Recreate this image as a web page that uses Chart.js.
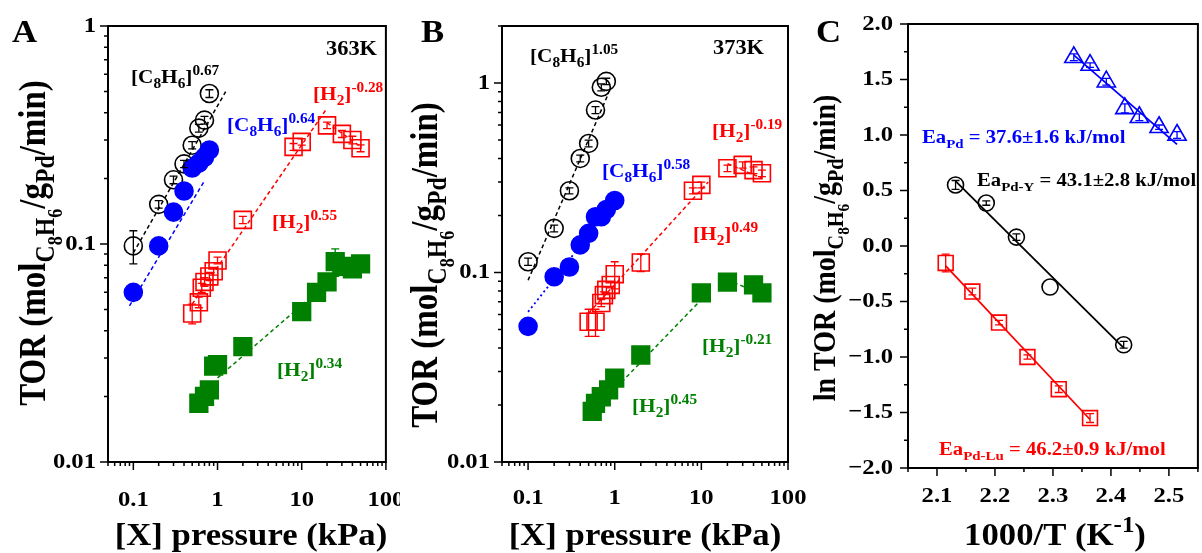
<!DOCTYPE html>
<html>
<head>
<meta charset="utf-8">
<script src="https://cdn.jsdelivr.net/npm/chart.js@4.4.1/dist/chart.umd.min.js"></script>
<style>
  html, body { margin: 0; padding: 0; background: #fff; overflow: hidden; }
  body { width: 1202px; height: 553px; position: relative; }
  canvas { position: absolute; top: 0; }
</style>
</head>
<body>
<canvas id="chartA" width="400" height="553" style="left:0px"></canvas>
<canvas id="chartB" width="410" height="553" style="left:400px"></canvas>
<canvas id="chartC" width="400" height="553" style="left:810px"></canvas>
<script>
// ---- Panel A : 363 K, TOR vs pressure ----
const aBlackX = [0.1, 0.2, 0.3, 0.4, 0.5, 0.6, 0.7, 0.8];
const aBlackY = [0.098, 0.152, 0.197, 0.233, 0.284, 0.34, 0.37, 0.49];
const aBlackErr = [0.017, 0.006, 0.008, 0.009, 0.011, 0.014, 0.015, 0.02];
const aBlueX = [0.1, 0.2, 0.3, 0.4, 0.5, 0.6, 0.7, 0.8];
const aBlueY = [0.060, 0.098, 0.140, 0.175, 0.223, 0.235, 0.25, 0.27];
const aRedX = [0.5, 0.6, 0.65, 0.7, 0.8, 0.9, 1, 2, 8, 10, 20, 30, 40, 50];
const aRedY = [0.048, 0.054, 0.063, 0.067, 0.071, 0.075, 0.084, 0.129, 0.279, 0.294, 0.35, 0.32, 0.30, 0.275];
const aRedErr = [0.005, 0.003, 0.003, 0.003, 0.003, 0.003, 0.003, 0.005, 0.01, 0.01, 0.012, 0.012, 0.012, 0.01];
const aGreenX = [0.6, 0.7, 0.8, 0.9, 1, 2, 10, 15, 20, 25, 30, 40, 50];
const aGreenY = [0.0186, 0.020, 0.0214, 0.0275, 0.028, 0.0338, 0.049, 0.060, 0.067, 0.083, 0.079, 0.077, 0.081];
const aGreenErr = [0, 0, 0, 0, 0, 0, 0, 0, 0, 0.012, 0, 0, 0];
// fitted power-law lines (end points)
const aBlackFitX = [0.1, 1.25], aBlackFitY = [0.091, 0.50];
const aBlueFitX = [0.09, 0.7], aBlueFitY = [0.052, 0.195];
const aRedFitX = [0.5, 20], aRedFitY = [0.053, 0.42];
const aRedFit2X = [20, 50], aRedFit2Y = [0.36, 0.28];
const aGreenFitX = [1, 15], aGreenFitY = [0.0243, 0.06];

// ---- Panel B : 373 K ----
const bBlackX = [0.1, 0.2, 0.3, 0.4, 0.5, 0.6, 0.7, 0.8];
const bBlackY = [0.114, 0.171, 0.27, 0.40, 0.48, 0.72, 0.95, 1.02];
const bBlackErr = [0.005, 0.007, 0.01, 0.016, 0.02, 0.03, 0.04, 0.04];
const bBlueX = [0.1, 0.2, 0.3, 0.4, 0.5, 0.6, 0.7, 0.8, 1];
const bBlueY = [0.052, 0.095, 0.107, 0.14, 0.161, 0.197, 0.197, 0.215, 0.24];
const bRedX = [0.5, 0.6, 0.7, 0.75, 0.8, 0.9, 1, 2, 8, 10, 20, 30, 40, 50];
const bRedY = [0.055, 0.055, 0.069, 0.076, 0.081, 0.086, 0.098, 0.113, 0.27, 0.29, 0.355, 0.37, 0.347, 0.334];
const bRedErr = [0.009, 0.009, 0.003, 0.003, 0.003, 0.003, 0.016, 0.012, 0.01, 0.01, 0.014, 0.014, 0.014, 0.013];
const bGreenX = [0.55, 0.6, 0.7, 0.85, 1, 2, 10, 20, 40, 50];
const bGreenY = [0.0185, 0.0204, 0.0221, 0.024, 0.0277, 0.0367, 0.078, 0.089, 0.086, 0.078];
const bBlackFitX = [0.1, 0.85], bBlackFitY = [0.091, 0.885];
const bBlueFitX = [0.1, 1], bBlueFitY = [0.062, 0.235];
const bRedFitX = [0.5, 12], bRedFitY = [0.061, 0.30];
const bRedFit2X = [20, 50], bRedFit2Y = [0.375, 0.315];
const bGreenFitX = [1.2, 10], bGreenFitY = [0.0264, 0.072];
const bGreenFit2X = [20, 45], bGreenFit2Y = [0.092, 0.078];

// ---- Panel C : Arrhenius plot ----
const cBlueX = [2.336, 2.364, 2.392, 2.424, 2.449, 2.483, 2.514];
const cBlueY = [1.70, 1.63, 1.48, 1.24, 1.16, 1.07, 1.00];
const cBlueErr = [0.03, 0.02, 0.03, 0.04, 0.03, 0.02, 0.03];
const cBlackX = [2.132, 2.185, 2.237, 2.295, 2.422];
const cBlackY = [0.55, 0.387, 0.08, -0.37, -0.89];
const cBlackErr = [0.04, 0.02, 0.03, 0, 0.03];
const cRedX = [2.115, 2.161, 2.207, 2.256, 2.31, 2.364];
const cRedY = [-0.153, -0.41, -0.69, -1.0, -1.29, -1.55];
const cRedErr = [0.08, 0.03, 0.02, 0.02, 0.03, 0.04];
const cBlueFitX = [2.336, 2.514], cBlueFitY = [1.719, 0.915];
const cBlackFitX = [2.132, 2.422], cBlackFitY = [0.584, -0.918];
const cRedFitX = [2.115, 2.364], cRedFitY = [-0.179, -1.563];

const FONT = "'Liberation Serif', 'Times New Roman', serif";
const STRETCH = 1.12;
const BLUE = '#0000ff', RED = '#ff0000', GREEN = '#008000', BLACK = '#000000';

function pts(xs, ys) { return xs.map((x, i) => ({ x: x, y: ys[i] })); }

function marks(xs, ys, color, style, radius, filled, err, order) {
  return {
    data: pts(xs, ys), pointStyle: style, pointRadius: radius,
    borderColor: color, pointBorderColor: color,
    pointBackgroundColor: filled ? color : 'rgba(0,0,0,0)',
    pointBorderWidth: 1.6, showLine: false, err: err, order: order
  };
}
function fit(xs, ys, color, dash, width, order) {
  return {
    data: pts(xs, ys), showLine: true, borderColor: color, borderWidth: width || 1.5,
    borderDash: dash, pointRadius: 0, order: order || 0
  };
}

// tick values
function logTicks(lo, hi, min, max) {
  const out = [];
  for (let p = lo; p <= hi; p++) {
    for (let k = 1; k < 10; k++) {
      const v = parseFloat((k * Math.pow(10, p)).toPrecision(2));
      if (v >= min - 1e-9 && v <= max + 1e-9) out.push(v);
    }
  }
  return out;
}
function linTicks(min, max, step) {
  const out = [];
  const n = Math.round((max - min) / step);
  for (let i = 0; i <= n; i++) out.push(parseFloat((min + i * step).toFixed(3)));
  return out;
}
const isDecade = v => Math.abs(Math.log10(v) - Math.round(Math.log10(v))) < 1e-6;
const multipleOf = s => v => Math.abs(v / s - Math.round(v / s)) < 1e-6;

// rich text: parts = [[text, kind]], kind '' | sub | sup | ss
const KINDS = { '': [1, 0], sub: [0.72, 0.25], sup: [0.72, -0.42], ss: [0.55, 0.45] };
function drawRich(ctx, item) {
  const size = item.size;
  ctx.save();
  ctx.translate(item.x, item.y);
  if (item.rotate) { ctx.rotate(-Math.PI / 2); ctx.scale(1, STRETCH); }
  else ctx.scale(STRETCH, 1);
  ctx.fillStyle = item.color || BLACK;
  ctx.textBaseline = item.baseline || 'alphabetic';
  ctx.textAlign = 'left';
  const widths = item.parts.map(p => {
    ctx.font = 'bold ' + (size * KINDS[p[1]][0]) + 'px ' + FONT;
    return ctx.measureText(p[0]).width;
  });
  const total = widths.reduce((a, b) => a + b, 0);
  let cx = item.align === 'center' ? -total / 2 : item.align === 'right' ? -total : 0;
  item.parts.forEach((p, i) => {
    const k = KINDS[p[1]];
    ctx.font = 'bold ' + (size * k[0]) + 'px ' + FONT;
    ctx.fillText(p[0], cx, k[1] * size);
    cx += widths[i];
  });
  ctx.restore();
}

const C8H6 = [['[C', ''], ['8', 'sub'], ['H', ''], ['6', 'sub'], [']', '']];
const H2 = [['[H', ''], ['2', 'sub'], [']', '']];
const TOR = [['TOR (mol', ''], ['C', 'sub'], ['8', 'ss'], ['H', 'sub'], ['6', 'ss'], ['/g', ''], ['Pd', 'sub'], ['/min)', '']];
const XTITLE = [['[X] pressure (kPa)', '']];

// texts in page coordinates (left x, baseline y)
const textsA = [
  { x: 12, y: 42, size: 31, parts: [['A', '']] },
  { x: 326, y: 55, size: 20, parts: [['363K', '']] },
  { x: 131, y: 83, size: 19, parts: C8H6.concat([['0.67', 'sup']]) },
  { x: 227, y: 131, size: 19, color: BLUE, parts: C8H6.concat([['0.64', 'sup']]) },
  { x: 313, y: 100, size: 19, color: RED, parts: H2.concat([['-0.28', 'sup']]) },
  { x: 272, y: 228, size: 19, color: RED, parts: H2.concat([['0.55', 'sup']]) },
  { x: 277, y: 376, size: 19, color: GREEN, parts: H2.concat([['0.34', 'sup']]) },
  { x: 45, y: 243, size: 33, rotate: true, align: 'center', parts: TOR },
  { x: 251, y: 545, size: 31, align: 'center', parts: XTITLE }
];
const textsB = [
  { x: 421, y: 42, size: 31, parts: [['B', '']] },
  { x: 713, y: 54, size: 20, parts: [['373K', '']] },
  { x: 530, y: 62, size: 19, parts: C8H6.concat([['1.05', 'sup']]) },
  { x: 602, y: 177, size: 19, color: BLUE, parts: C8H6.concat([['0.58', 'sup']]) },
  { x: 712, y: 137, size: 19, color: RED, parts: H2.concat([['-0.19', 'sup']]) },
  { x: 693, y: 240, size: 19, color: RED, parts: H2.concat([['0.49', 'sup']]) },
  { x: 702, y: 352, size: 19, color: GREEN, parts: H2.concat([['-0.21', 'sup']]) },
  { x: 632, y: 412, size: 19, color: GREEN, parts: H2.concat([['0.45', 'sup']]) },
  { x: 437, y: 265, size: 33, rotate: true, align: 'center', parts: TOR },
  { x: 645, y: 545, size: 31, align: 'center', parts: XTITLE }
];
const textsC = [
  { x: 816, y: 42, size: 31, parts: [['C', '']] },
  { x: 922, y: 143, size: 18.5, color: BLUE, parts: [['Ea', ''], ['Pd', 'sub'], [' = 37.6\u00b11.6 kJ/mol', '']] },
  { x: 977, y: 186, size: 18.5, parts: [['Ea', ''], ['Pd-Y', 'sub'], [' = 43.1\u00b12.8 kJ/mol', '']] },
  { x: 939, y: 455, size: 18.5, color: RED, parts: [['Ea', ''], ['Pd-Lu', 'sub'], [' = 46.2\u00b10.9 kJ/mol', '']] },
  { x: 835, y: 248, size: 28, rotate: true, align: 'center', parts: [['ln ', '']].concat(TOR) },
  { x: 1055, y: 545, size: 31, align: 'center', parts: [['1000/T (K', ''], ['-1', 'sup'], [')', '']] }
];

const panelCfg = {
  chartA: { offX: 0, xMajor: isDecade, yMajor: isDecade, fmtX: v => String(v), fmtY: v => String(v),
            xLabelY: 506, yLabelPad: 12, texts: textsA },
  chartB: { offX: 400, xMajor: isDecade, yMajor: isDecade, fmtX: v => String(v), fmtY: v => String(v),
            xLabelY: 504, yLabelPad: 12, texts: textsB },
  chartC: { offX: 810, xMajor: multipleOf(0.1), yMajor: multipleOf(0.5), fmtX: v => v.toFixed(1),
            fmtY: v => (v < 0 ? '\u2212' : '') + Math.abs(v).toFixed(1), xLabelY: 502, yLabelPad: 15, texts: textsC }
};

const framePlugin = {
  id: 'frame',
  afterDatasetsDraw(chart) {
    const ctx = chart.ctx, ys = chart.scales.y;
    chart.data.datasets.forEach((ds, i) => {
      if (!ds.err) return;
      const meta = chart.getDatasetMeta(i);
      ctx.save();
      ctx.strokeStyle = ds.borderColor; ctx.lineWidth = 1.3;
      meta.data.forEach((el, j) => {
        const e = ds.err[j];
        if (!e) return;
        const y1 = ys.getPixelForValue(ds.data[j].y - e), y2 = ys.getPixelForValue(ds.data[j].y + e);
        ctx.beginPath();
        ctx.moveTo(el.x, y1); ctx.lineTo(el.x, y2);
        ctx.moveTo(el.x - 4, y1); ctx.lineTo(el.x + 4, y1);
        ctx.moveTo(el.x - 4, y2); ctx.lineTo(el.x + 4, y2);
        ctx.stroke();
      });
      ctx.restore();
    });
  },
  afterDraw(chart) {
    const cfg = panelCfg[chart.canvas.id];
    const ctx = chart.ctx, a = chart.chartArea;
    const xs = chart.scales.x, ys = chart.scales.y;
    ctx.save();
    ctx.strokeStyle = BLACK;
    ctx.lineWidth = 2;
    ctx.strokeRect(a.left, a.top, a.right - a.left, a.bottom - a.top);
    ctx.lineWidth = 1.5;
    ctx.beginPath();
    xs.ticks.forEach(t => {
      const px = xs.getPixelForValue(t.value);
      const len = cfg.xMajor(t.value) ? 8 : 4;
      ctx.moveTo(px, a.bottom); ctx.lineTo(px, a.bottom + len);
    });
    ys.ticks.forEach(t => {
      const py = ys.getPixelForValue(t.value);
      const len = cfg.yMajor(t.value) ? 8 : 4;
      ctx.moveTo(a.left, py); ctx.lineTo(a.left - len, py);
    });
    ctx.stroke();
    ctx.restore();
    // tick labels
    xs.ticks.forEach(t => {
      if (!cfg.xMajor(t.value)) return;
      drawRich(ctx, { x: xs.getPixelForValue(t.value), y: cfg.xLabelY, size: 22, align: 'center',
                      parts: [[cfg.fmtX(t.value), '']] });
    });
    ys.ticks.forEach(t => {
      if (!cfg.yMajor(t.value)) return;
      drawRich(ctx, { x: a.left - cfg.yLabelPad, y: ys.getPixelForValue(t.value), size: 22, align: 'right',
                      baseline: 'middle', parts: [[cfg.fmtY(t.value), '']] });
    });
    cfg.texts.forEach(t => drawRich(ctx, Object.assign({}, t, { x: t.x - cfg.offX })));
  }
};

function axis(type, min, max, ticksFn, size, horizontal) {
  return {
    type: type, min: min, max: max,
    grid: { display: false, drawTicks: false }, border: { display: false },
    ticks: { display: false },
    afterBuildTicks: s => { s.ticks = ticksFn().map(v => ({ value: v })); },
    afterFit: s => { if (horizontal) s.height = size; else s.width = size; }
  };
}

function makeChart(id, datasets, xAxis, yAxis, padding) {
  return new Chart(document.getElementById(id), {
    type: 'scatter',
    data: { datasets: datasets },
    options: {
      responsive: false, animation: false, events: [],
      layout: { padding: padding },
      plugins: { legend: { display: false }, tooltip: { enabled: false } },
      scales: { x: xAxis, y: yAxis }
    },
    plugins: [framePlugin]
  });
}

makeChart('chartA', [
  marks(aBlackX, aBlackY, BLACK, 'circle', 9, false, aBlackErr, 4),
  marks(aBlueX, aBlueY, BLUE, 'circle', 9, true, null, 3),
  marks(aRedX, aRedY, RED, 'rect', 12, false, aRedErr, 2),
  marks(aGreenX, aGreenY, GREEN, 'rect', 12.5, true, aGreenErr, 1),
  fit(aBlackFitX, aBlackFitY, BLACK, [4, 3]),
  fit(aBlueFitX, aBlueFitY, BLUE, [4, 3], 1.5, 5),
  fit(aRedFitX, aRedFitY, RED, [4, 3]),
  fit(aRedFit2X, aRedFit2Y, RED, [4, 3]),
  fit(aGreenFitX, aGreenFitY, GREEN, [4, 3])
], axis('logarithmic', 0.05, 100, () => logTicks(-2, 2, 0.05, 100), 91, true),
   axis('logarithmic', 0.01, 1, () => logTicks(-2, 0, 0.01, 1), 108, false),
   { left: 0, top: 26, right: 8, bottom: 0 });

makeChart('chartB', [
  marks(bBlackX, bBlackY, BLACK, 'circle', 9, false, bBlackErr, 4),
  marks(bBlueX, bBlueY, BLUE, 'circle', 9, true, null, 3),
  marks(bRedX, bRedY, RED, 'rect', 12, false, bRedErr, 2),
  marks(bGreenX, bGreenY, GREEN, 'rect', 12.5, true, null, 1),
  fit(bBlackFitX, bBlackFitY, BLACK, [4, 3]),
  fit(bBlueFitX, bBlueFitY, BLUE, [2, 3], 1.8, 5),
  fit(bRedFitX, bRedFitY, RED, [4, 3]),
  fit(bRedFit2X, bRedFit2Y, RED, [4, 3]),
  fit(bGreenFitX, bGreenFitY, GREEN, [4, 3]),
  fit(bGreenFit2X, bGreenFit2Y, GREEN, [4, 3])
], axis('logarithmic', 0.05, 100, () => logTicks(-2, 2, 0.05, 100), 91, true),
   axis('logarithmic', 0.01, 2, () => logTicks(-2, 0, 0.01, 2), 102, false),
   { left: 0, top: 26, right: 22, bottom: 0 });

makeChart('chartC', [
  marks(cBlueX, cBlueY, BLUE, 'triangle', 10.5, false, cBlueErr, 3),
  marks(cBlackX, cBlackY, BLACK, 'circle', 8, false, cBlackErr, 2),
  marks(cRedX, cRedY, RED, 'rect', 10.5, false, cRedErr, 1),
  fit(cBlueFitX, cBlueFitY, BLUE, [], 1.8),
  fit(cBlackFitX, cBlackFitY, BLACK, [], 1.8),
  fit(cRedFitX, cRedFitY, RED, [], 1.8)
], axis('linear', 2.05, 2.55, () => linTicks(2.05, 2.55, 0.05), 85, true),
   axis('linear', -2, 2, () => linTicks(-2, 2, 0.25), 98, false),
   { left: 0, top: 24, right: 6.5, bottom: 0 });
</script>
</body>
</html>
